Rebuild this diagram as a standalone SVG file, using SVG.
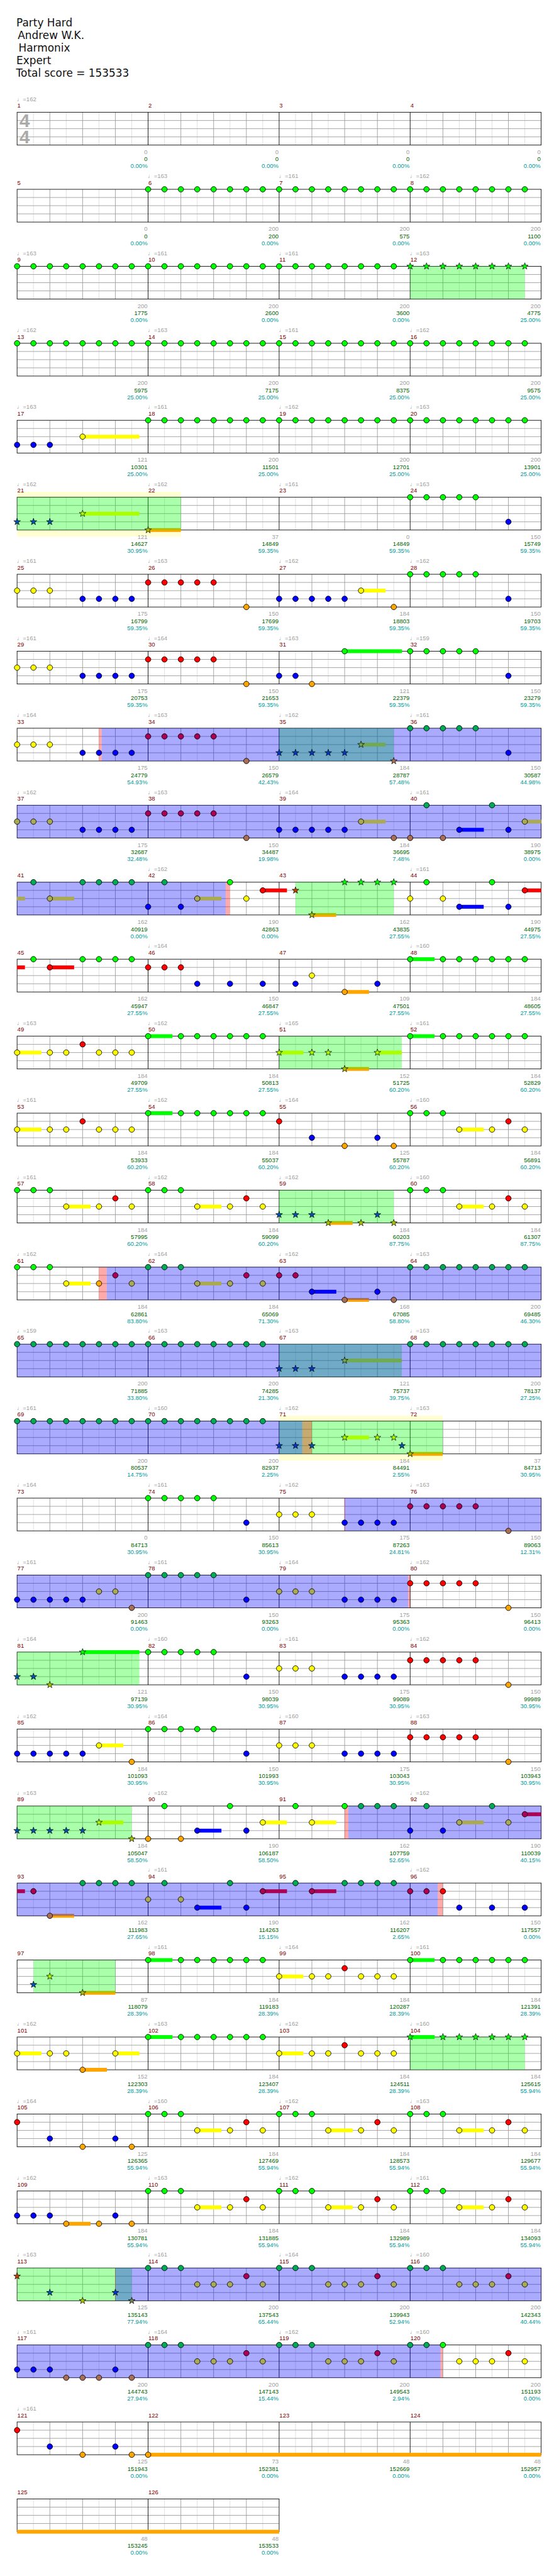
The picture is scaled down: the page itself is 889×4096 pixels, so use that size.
<svg xmlns="http://www.w3.org/2000/svg" xmlns:xlink="http://www.w3.org/1999/xlink" width="889" height="4096" viewBox="0 0 889 4096">
<style>
.t{font-family:"Liberation Sans","DejaVu Sans",sans-serif;font-size:11px}
.mn{fill:#800000}
.tp{fill:#a0a0a0}
.s1,.s2,.s3{text-anchor:end}
.s1{fill:#a0a0a0}.s2{fill:#006400}.s3{fill:#009999}
.ttl{font-family:"DejaVu Sans",sans-serif;font-size:19.5px;fill:#111}
.G{fill:#0f0}.R{fill:#f00}.Y{fill:#ff0}.B{fill:#00f}.O{fill:#ffa500}
.Gb{fill:#00aa55}.Rb{fill:#aa0055}.Yb{fill:#aaaa55}.Ob{fill:#aa6e55}
.Yg{fill:#aaff00}.Bg{fill:#0055aa}.Og{fill:#aac300}.Rg{fill:#c04000}
.Bgb{fill:#0039c6}.Ygb{fill:#71aa55}.Ogb{fill:#718255}.Yp{fill:#ffaa00}
.og{fill:#0f0;fill-opacity:.333}.ob{fill:#00f;fill-opacity:.333}.op{fill:#f00;fill-opacity:.333}
.yb{fill:#ffffd2}
</style>
<defs>
<circle id="c0" r="5" stroke="#000" stroke-width="1"/>
<circle id="c1" cy="15" r="5" stroke="#000" stroke-width="1"/>
<circle id="c2" cy="30" r="5" stroke="#000" stroke-width="1"/>
<circle id="c3" cy="45" r="5" stroke="#000" stroke-width="1"/>
<circle id="c4" cy="60" r="5" stroke="#000" stroke-width="1"/>
<polygon id="s0" points="0,-6.5 1.53,-2.1 6.18,-2.01 2.47,0.8 3.82,5.26 0,2.6 -3.82,5.26 -2.47,0.8 -6.18,-2.01 -1.53,-2.1" stroke="#000" stroke-width="0.8"/>
<use id="s1" href="#s0" y="15"/>
<use id="s2" href="#s0" y="30"/>
<use id="s3" href="#s0" y="45"/>
<use id="s4" href="#s0" y="60"/>
<g id="st">
<rect width="960" height="60" fill="#fff"/>
<path d="M30 0V60M90 0V60M150 0V60M210 0V60M270 0V60M330 0V60M390 0V60M450 0V60M510 0V60M570 0V60M630 0V60M690 0V60M750 0V60M810 0V60M870 0V60M930 0V60" stroke="#dcdcdc" fill="none"/>
<path d="M60 0V60M120 0V60M180 0V60M300 0V60M360 0V60M420 0V60M540 0V60M600 0V60M660 0V60M780 0V60M840 0V60M900 0V60M0 15H960M0 30H960M0 45H960" stroke="#999" fill="none"/>
<path d="M240 0V60M480 0V60M720 0V60" stroke="#000" fill="none"/>
<rect width="960" height="60" fill="none" stroke="#000"/>
</g>
<g id="st2">
<rect width="480" height="60" fill="#fff"/>
<path d="M30 0V60M90 0V60M150 0V60M210 0V60M270 0V60M330 0V60M390 0V60M450 0V60" stroke="#dcdcdc" fill="none"/>
<path d="M60 0V60M120 0V60M180 0V60M300 0V60M360 0V60M420 0V60M0 15H480M0 30H480M0 45H480" stroke="#999" fill="none"/>
<path d="M240 0V60" stroke="#000" fill="none"/>
<rect width="480" height="60" fill="none" stroke="#000"/>
</g>
</defs>
<g transform="scale(0.8682)">
<rect width="1024" height="4717" fill="#fff"/>
<g id="header" class="ttl">
<text x="30" y="48.7">Party Hard</text>
<text x="32.5" y="71.7">Andrew W.K.</text>
<text x="34" y="95">Harmonix</text>
<text x="30" y="117.7">Expert</text>
<text x="29.5" y="140.7">Total score = 153533</text>
</g>

<g id="row1" transform="translate(31.3,205.7)">
<use href="#st"/>
<text x="4.5" y="27.3" font-family="Liberation Sans,sans-serif" font-weight="bold" font-size="34" fill="#aaa">4</text>
<text x="4.5" y="57.3" font-family="Liberation Sans,sans-serif" font-weight="bold" font-size="34" fill="#aaa">4</text>
<g class="t">
<text class="tp" x="-0.5" y="-20.5">♩=162</text>
<text class="mn" x="0.5" y="-8.4">1</text><text class="mn" x="240.5" y="-8.4">2</text><text class="mn" x="480.5" y="-8.4">3</text><text class="mn" x="720.5" y="-8.4">4</text>
<text class="s1" x="239" y="76.3">0</text><text class="s2" x="239" y="89.6">0</text><text class="s3" x="239" y="102.3">0.00%</text>
<text class="s1" x="479" y="76.3">0</text><text class="s2" x="479" y="89.6">0</text><text class="s3" x="479" y="102.3">0.00%</text>
<text class="s1" x="719" y="76.3">0</text><text class="s2" x="719" y="89.6">0</text><text class="s3" x="719" y="102.3">0.00%</text>
<text class="s1" x="959" y="76.3">0</text><text class="s2" x="959" y="89.6">0</text><text class="s3" x="959" y="102.3">0.00%</text>
</g>
</g>

<g id="row2" transform="translate(31.3,346.7)">
<use href="#st"/>
<g class="G"><use href="#c0" x="240"/><use href="#c0" x="270"/><use href="#c0" x="300"/><use href="#c0" x="330"/><use href="#c0" x="360"/><use href="#c0" x="390"/><use href="#c0" x="420"/><use href="#c0" x="450"/><use href="#c0" x="480"/><use href="#c0" x="510"/><use href="#c0" x="540"/><use href="#c0" x="570"/><use href="#c0" x="600"/><use href="#c0" x="630"/><use href="#c0" x="660"/><use href="#c0" x="690"/><use href="#c0" x="720"/><use href="#c0" x="750"/><use href="#c0" x="780"/><use href="#c0" x="810"/><use href="#c0" x="840"/><use href="#c0" x="870"/><use href="#c0" x="900"/><use href="#c0" x="930"/></g>
<g class="t">
<text class="tp" x="239.5" y="-20.5">♩=163</text><text class="tp" x="479.5" y="-20.5">♩=161</text><text class="tp" x="719.5" y="-20.5">♩=162</text>
<text class="mn" x="0.5" y="-8.4">5</text><text class="mn" x="240.5" y="-8.4">6</text><text class="mn" x="480.5" y="-8.4">7</text><text class="mn" x="720.5" y="-8.4">8</text>
<text class="s1" x="239" y="76.3">0</text><text class="s2" x="239" y="89.6">0</text><text class="s3" x="239" y="102.3">0.00%</text>
<text class="s1" x="479" y="76.3">200</text><text class="s2" x="479" y="89.6">200</text><text class="s3" x="479" y="102.3">0.00%</text>
<text class="s1" x="719" y="76.3">200</text><text class="s2" x="719" y="89.6">575</text><text class="s3" x="719" y="102.3">0.00%</text>
<text class="s1" x="959" y="76.3">200</text><text class="s2" x="959" y="89.6">1100</text><text class="s3" x="959" y="102.3">0.00%</text>
</g>
</g>

<g id="row3" transform="translate(31.3,487.7)">
<use href="#st"/>
<rect class="og" x="720" width="210" height="60"/>
<g class="G"><use href="#c0" x="0"/><use href="#c0" x="30"/><use href="#c0" x="60"/><use href="#c0" x="90"/><use href="#c0" x="120"/><use href="#c0" x="150"/><use href="#c0" x="180"/><use href="#c0" x="210"/><use href="#c0" x="240"/><use href="#c0" x="270"/><use href="#c0" x="300"/><use href="#c0" x="330"/><use href="#c0" x="360"/><use href="#c0" x="390"/><use href="#c0" x="420"/><use href="#c0" x="450"/><use href="#c0" x="480"/><use href="#c0" x="510"/><use href="#c0" x="540"/><use href="#c0" x="570"/><use href="#c0" x="600"/><use href="#c0" x="630"/><use href="#c0" x="660"/><use href="#c0" x="690"/>
<use href="#s0" x="720"/><use href="#s0" x="750"/><use href="#s0" x="780"/><use href="#s0" x="810"/><use href="#s0" x="840"/><use href="#s0" x="870"/><use href="#s0" x="900"/><use href="#s0" x="930"/></g>
<g class="t">
<text class="tp" x="-0.5" y="-20.5">♩=163</text><text class="tp" x="239.5" y="-20.5">♩=161</text><text class="tp" x="479.5" y="-20.5">♩=161</text><text class="tp" x="719.5" y="-20.5">♩=163</text>
<text class="mn" x="0.5" y="-8.4">9</text><text class="mn" x="240.5" y="-8.4">10</text><text class="mn" x="480.5" y="-8.4">11</text><text class="mn" x="720.5" y="-8.4">12</text>
<text class="s1" x="239" y="76.3">200</text><text class="s2" x="239" y="89.6">1775</text><text class="s3" x="239" y="102.3">0.00%</text>
<text class="s1" x="479" y="76.3">200</text><text class="s2" x="479" y="89.6">2600</text><text class="s3" x="479" y="102.3">0.00%</text>
<text class="s1" x="719" y="76.3">200</text><text class="s2" x="719" y="89.6">3600</text><text class="s3" x="719" y="102.3">0.00%</text>
<text class="s1" x="959" y="76.3">200</text><text class="s2" x="959" y="89.6">4775</text><text class="s3" x="959" y="102.3">25.00%</text>
</g>
</g>

<g id="row4" transform="translate(31.3,628.7)">
<use href="#st"/>
<g class="G"><use href="#c0" x="0"/><use href="#c0" x="30"/><use href="#c0" x="60"/><use href="#c0" x="90"/><use href="#c0" x="120"/><use href="#c0" x="150"/><use href="#c0" x="180"/><use href="#c0" x="210"/><use href="#c0" x="240"/><use href="#c0" x="270"/><use href="#c0" x="300"/><use href="#c0" x="330"/><use href="#c0" x="360"/><use href="#c0" x="390"/><use href="#c0" x="420"/><use href="#c0" x="450"/><use href="#c0" x="480"/><use href="#c0" x="510"/><use href="#c0" x="540"/><use href="#c0" x="570"/><use href="#c0" x="600"/><use href="#c0" x="630"/><use href="#c0" x="660"/><use href="#c0" x="690"/><use href="#c0" x="720"/><use href="#c0" x="750"/><use href="#c0" x="780"/><use href="#c0" x="810"/><use href="#c0" x="840"/><use href="#c0" x="870"/><use href="#c0" x="900"/><use href="#c0" x="930"/></g>
<g class="t">
<text class="tp" x="-0.5" y="-20.5">♩=162</text><text class="tp" x="239.5" y="-20.5">♩=163</text><text class="tp" x="479.5" y="-20.5">♩=161</text><text class="tp" x="719.5" y="-20.5">♩=162</text>
<text class="mn" x="0.5" y="-8.4">13</text><text class="mn" x="240.5" y="-8.4">14</text><text class="mn" x="480.5" y="-8.4">15</text><text class="mn" x="720.5" y="-8.4">16</text>
<text class="s1" x="239" y="76.3">200</text><text class="s2" x="239" y="89.6">5975</text><text class="s3" x="239" y="102.3">25.00%</text>
<text class="s1" x="479" y="76.3">200</text><text class="s2" x="479" y="89.6">7175</text><text class="s3" x="479" y="102.3">25.00%</text>
<text class="s1" x="719" y="76.3">200</text><text class="s2" x="719" y="89.6">8375</text><text class="s3" x="719" y="102.3">25.00%</text>
<text class="s1" x="959" y="76.3">200</text><text class="s2" x="959" y="89.6">9575</text><text class="s3" x="959" y="102.3">25.00%</text>
</g>
</g>

<g id="row5" transform="translate(31.3,769.7)">
<use href="#st"/>
<rect class="Y" x="120" y="26.5" width="104" height="7"/>
<g class="B"><use href="#c3" x="0"/><use href="#c3" x="30"/><use href="#c3" x="60"/></g>
<use href="#c2" class="Y" x="120"/>
<g class="G"><use href="#c0" x="240"/><use href="#c0" x="270"/><use href="#c0" x="300"/><use href="#c0" x="330"/><use href="#c0" x="360"/><use href="#c0" x="390"/><use href="#c0" x="420"/><use href="#c0" x="450"/><use href="#c0" x="480"/><use href="#c0" x="510"/><use href="#c0" x="540"/><use href="#c0" x="570"/><use href="#c0" x="600"/><use href="#c0" x="630"/><use href="#c0" x="660"/><use href="#c0" x="690"/><use href="#c0" x="720"/><use href="#c0" x="750"/><use href="#c0" x="780"/><use href="#c0" x="810"/><use href="#c0" x="840"/><use href="#c0" x="870"/><use href="#c0" x="900"/><use href="#c0" x="930"/></g>
<g class="t">
<text class="tp" x="-0.5" y="-20.5">♩=163</text><text class="tp" x="239.5" y="-20.5">♩=161</text><text class="tp" x="479.5" y="-20.5">♩=162</text><text class="tp" x="719.5" y="-20.5">♩=163</text>
<text class="mn" x="0.5" y="-8.4">17</text><text class="mn" x="240.5" y="-8.4">18</text><text class="mn" x="480.5" y="-8.4">19</text><text class="mn" x="720.5" y="-8.4">20</text>
<text class="s1" x="239" y="76.3">121</text><text class="s2" x="239" y="89.6">10301</text><text class="s3" x="239" y="102.3">25.00%</text>
<text class="s1" x="479" y="76.3">200</text><text class="s2" x="479" y="89.6">11501</text><text class="s3" x="479" y="102.3">25.00%</text>
<text class="s1" x="719" y="76.3">200</text><text class="s2" x="719" y="89.6">12701</text><text class="s3" x="719" y="102.3">25.00%</text>
<text class="s1" x="959" y="76.3">200</text><text class="s2" x="959" y="89.6">13901</text><text class="s3" x="959" y="102.3">25.00%</text>
</g>
</g>

<g id="row6" transform="translate(31.3,910.7)">
<rect class="yb" x="0" y="-10" width="300" height="82"/>
<use href="#st"/>
<rect class="Y" x="120" y="26.5" width="104" height="7"/>
<rect class="O" x="240" y="56.5" width="60" height="7"/>
<rect class="og" x="0" width="300" height="60"/>
<g class="Bg"><use href="#s3" x="0"/><use href="#s3" x="30"/><use href="#s3" x="60"/></g>
<use href="#s2" class="Yg" x="120"/>
<use href="#s4" class="Og" x="240"/>
<g class="G"><use href="#c0" x="720"/><use href="#c0" x="750"/><use href="#c0" x="780"/><use href="#c0" x="810"/><use href="#c0" x="840"/></g>
<use href="#c3" class="B" x="900"/>
<g class="t">
<text class="tp" x="-0.5" y="-20.5">♩=162</text><text class="tp" x="239.5" y="-20.5">♩=162</text><text class="tp" x="479.5" y="-20.5">♩=161</text><text class="tp" x="719.5" y="-20.5">♩=163</text>
<text class="mn" x="0.5" y="-8.4">21</text><text class="mn" x="240.5" y="-8.4">22</text><text class="mn" x="480.5" y="-8.4">23</text><text class="mn" x="720.5" y="-8.4">24</text>
<text class="s1" x="239" y="76.3">121</text><text class="s2" x="239" y="89.6">14627</text><text class="s3" x="239" y="102.3">30.95%</text>
<text class="s1" x="479" y="76.3">37</text><text class="s2" x="479" y="89.6">14849</text><text class="s3" x="479" y="102.3">59.35%</text>
<text class="s1" x="719" y="76.3">0</text><text class="s2" x="719" y="89.6">14849</text><text class="s3" x="719" y="102.3">59.35%</text>
<text class="s1" x="959" y="76.3">150</text><text class="s2" x="959" y="89.6">15749</text><text class="s3" x="959" y="102.3">59.35%</text>
</g>
</g>

<g id="row7" transform="translate(31.3,1051.7)">
<use href="#st"/>
<rect class="Y" x="630" y="26.5" width="45" height="7"/>
<g class="Y"><use href="#c2" x="0"/><use href="#c2" x="30"/><use href="#c2" x="60"/><use href="#c2" x="630"/></g>
<g class="B"><use href="#c3" x="120"/><use href="#c3" x="150"/><use href="#c3" x="180"/><use href="#c3" x="210"/><use href="#c3" x="480"/><use href="#c3" x="510"/><use href="#c3" x="540"/><use href="#c3" x="570"/><use href="#c3" x="600"/><use href="#c3" x="900"/></g>
<g class="R"><use href="#c1" x="240"/><use href="#c1" x="270"/><use href="#c1" x="300"/><use href="#c1" x="330"/><use href="#c1" x="360"/></g>
<g class="O"><use href="#c4" x="420"/><use href="#c4" x="690"/></g>
<g class="G"><use href="#c0" x="720"/><use href="#c0" x="750"/><use href="#c0" x="780"/><use href="#c0" x="810"/><use href="#c0" x="840"/></g>
<g class="t">
<text class="tp" x="-0.5" y="-20.5">♩=161</text><text class="tp" x="239.5" y="-20.5">♩=163</text><text class="tp" x="479.5" y="-20.5">♩=162</text><text class="tp" x="719.5" y="-20.5">♩=162</text>
<text class="mn" x="0.5" y="-8.4">25</text><text class="mn" x="240.5" y="-8.4">26</text><text class="mn" x="480.5" y="-8.4">27</text><text class="mn" x="720.5" y="-8.4">28</text>
<text class="s1" x="239" y="76.3">175</text><text class="s2" x="239" y="89.6">16799</text><text class="s3" x="239" y="102.3">59.35%</text>
<text class="s1" x="479" y="76.3">150</text><text class="s2" x="479" y="89.6">17699</text><text class="s3" x="479" y="102.3">59.35%</text>
<text class="s1" x="719" y="76.3">184</text><text class="s2" x="719" y="89.6">18803</text><text class="s3" x="719" y="102.3">59.35%</text>
<text class="s1" x="959" y="76.3">150</text><text class="s2" x="959" y="89.6">19703</text><text class="s3" x="959" y="102.3">59.35%</text>
</g>
</g>

<g id="row8" transform="translate(31.3,1192.7)">
<use href="#st"/>
<rect class="G" x="600" y="-3.5" width="105" height="7"/>
<g class="Y"><use href="#c2" x="0"/><use href="#c2" x="30"/><use href="#c2" x="60"/></g>
<g class="B"><use href="#c3" x="120"/><use href="#c3" x="150"/><use href="#c3" x="180"/><use href="#c3" x="210"/><use href="#c3" x="480"/><use href="#c3" x="510"/><use href="#c3" x="900"/></g>
<g class="R"><use href="#c1" x="240"/><use href="#c1" x="270"/><use href="#c1" x="300"/><use href="#c1" x="330"/><use href="#c1" x="360"/></g>
<g class="O"><use href="#c4" x="420"/><use href="#c4" x="540"/></g>
<g class="G"><use href="#c0" x="600"/><use href="#c0" x="720"/><use href="#c0" x="750"/><use href="#c0" x="780"/><use href="#c0" x="810"/><use href="#c0" x="840"/></g>
<g class="t">
<text class="tp" x="-0.5" y="-20.5">♩=161</text><text class="tp" x="239.5" y="-20.5">♩=164</text><text class="tp" x="479.5" y="-20.5">♩=163</text><text class="tp" x="719.5" y="-20.5">♩=159</text>
<text class="mn" x="0.5" y="-8.4">29</text><text class="mn" x="240.5" y="-8.4">30</text><text class="mn" x="480.5" y="-8.4">31</text><text class="mn" x="720.5" y="-8.4">32</text>
<text class="s1" x="239" y="76.3">175</text><text class="s2" x="239" y="89.6">20753</text><text class="s3" x="239" y="102.3">59.35%</text>
<text class="s1" x="479" y="76.3">150</text><text class="s2" x="479" y="89.6">21653</text><text class="s3" x="479" y="102.3">59.35%</text>
<text class="s1" x="719" y="76.3">121</text><text class="s2" x="719" y="89.6">22379</text><text class="s3" x="719" y="102.3">59.35%</text>
<text class="s1" x="959" y="76.3">150</text><text class="s2" x="959" y="89.6">23279</text><text class="s3" x="959" y="102.3">59.35%</text>
</g>
</g>

<g id="row9" transform="translate(31.3,1333.7)">
<use href="#st"/>
<rect class="Y" x="630" y="26.5" width="45" height="7"/>
<rect class="og" x="480" width="210" height="60"/>
<rect class="ob" x="154.8" width="805.2" height="60"/>
<rect class="op" x="149.6" width="5.2" height="60"/>
<g class="Y"><use href="#c2" x="0"/><use href="#c2" x="30"/><use href="#c2" x="60"/></g>
<g class="B"><use href="#c3" x="120"/><use href="#c3" x="150"/><use href="#c3" x="180"/><use href="#c3" x="210"/><use href="#c3" x="900"/></g>
<g class="Rb"><use href="#c1" x="240"/><use href="#c1" x="270"/><use href="#c1" x="300"/><use href="#c1" x="330"/><use href="#c1" x="360"/></g>
<use href="#c4" class="Ob" x="420"/>
<g class="Bgb"><use href="#s3" x="480"/><use href="#s3" x="510"/><use href="#s3" x="540"/><use href="#s3" x="570"/><use href="#s3" x="600"/></g>
<use href="#s2" class="Ygb" x="630"/>
<use href="#s4" class="Ob" x="690"/>
<g class="Gb"><use href="#c0" x="720"/><use href="#c0" x="750"/><use href="#c0" x="780"/><use href="#c0" x="810"/><use href="#c0" x="840"/></g>
<g class="t">
<text class="tp" x="-0.5" y="-20.5">♩=164</text><text class="tp" x="239.5" y="-20.5">♩=163</text><text class="tp" x="479.5" y="-20.5">♩=162</text><text class="tp" x="719.5" y="-20.5">♩=161</text>
<text class="mn" x="0.5" y="-8.4">33</text><text class="mn" x="240.5" y="-8.4">34</text><text class="mn" x="480.5" y="-8.4">35</text><text class="mn" x="720.5" y="-8.4">36</text>
<text class="s1" x="239" y="76.3">175</text><text class="s2" x="239" y="89.6">24779</text><text class="s3" x="239" y="102.3">54.93%</text>
<text class="s1" x="479" y="76.3">150</text><text class="s2" x="479" y="89.6">26579</text><text class="s3" x="479" y="102.3">42.43%</text>
<text class="s1" x="719" y="76.3">184</text><text class="s2" x="719" y="89.6">28787</text><text class="s3" x="719" y="102.3">57.48%</text>
<text class="s1" x="959" y="76.3">150</text><text class="s2" x="959" y="89.6">30587</text><text class="s3" x="959" y="102.3">44.98%</text>
</g>
</g>

<g id="row10" transform="translate(31.3,1474.7)">
<use href="#st"/>
<rect class="Y" x="630" y="26.5" width="45" height="7"/>
<rect class="B" x="810" y="41.5" width="45" height="7"/>
<rect class="Y" x="930" y="26.5" width="30" height="7"/>
<rect class="ob" x="0" width="960" height="60"/>
<g class="Yb"><use href="#c2" x="0"/><use href="#c2" x="30"/><use href="#c2" x="60"/><use href="#c2" x="630"/><use href="#c2" x="930"/></g>
<g class="B"><use href="#c3" x="120"/><use href="#c3" x="150"/><use href="#c3" x="180"/><use href="#c3" x="210"/><use href="#c3" x="480"/><use href="#c3" x="510"/><use href="#c3" x="540"/><use href="#c3" x="570"/><use href="#c3" x="600"/><use href="#c3" x="810"/><use href="#c3" x="900"/></g>
<g class="Rb"><use href="#c1" x="240"/><use href="#c1" x="270"/><use href="#c1" x="300"/><use href="#c1" x="330"/><use href="#c1" x="360"/></g>
<g class="Ob"><use href="#c4" x="420"/><use href="#c4" x="690"/><use href="#c4" x="720"/><use href="#c4" x="780"/></g>
<g class="Gb"><use href="#c0" x="750"/><use href="#c0" x="870"/></g>
<g class="t">
<text class="tp" x="-0.5" y="-20.5">♩=162</text><text class="tp" x="239.5" y="-20.5">♩=163</text><text class="tp" x="479.5" y="-20.5">♩=164</text><text class="tp" x="719.5" y="-20.5">♩=161</text>
<text class="mn" x="0.5" y="-8.4">37</text><text class="mn" x="240.5" y="-8.4">38</text><text class="mn" x="480.5" y="-8.4">39</text><text class="mn" x="720.5" y="-8.4">40</text>
<text class="s1" x="239" y="76.3">175</text><text class="s2" x="239" y="89.6">32687</text><text class="s3" x="239" y="102.3">32.48%</text>
<text class="s1" x="479" y="76.3">150</text><text class="s2" x="479" y="89.6">34487</text><text class="s3" x="479" y="102.3">19.98%</text>
<text class="s1" x="719" y="76.3">184</text><text class="s2" x="719" y="89.6">36695</text><text class="s3" x="719" y="102.3">7.48%</text>
<text class="s1" x="959" y="76.3">190</text><text class="s2" x="959" y="89.6">38975</text><text class="s3" x="959" y="102.3">0.00%</text>
</g>
</g>

<g id="row11" transform="translate(31.3,1615.7)">
<use href="#st"/>
<rect class="Y" x="0" y="26.5" width="14.4" height="7"/>
<rect class="Y" x="60" y="26.5" width="44.5" height="7"/>
<rect class="Y" x="330" y="26.5" width="44.3" height="7"/>
<rect class="R" x="450" y="11.5" width="44.4" height="7"/>
<rect class="O" x="540" y="56.5" width="44.5" height="7"/>
<rect class="B" x="810" y="41.5" width="44.7" height="7"/>
<rect class="R" x="930" y="11.5" width="30" height="7"/>
<rect class="ob" x="0" width="382.1" height="60"/>
<rect class="op" x="382.1" width="7.8" height="60"/>
<rect class="og" x="510" width="180" height="60"/>
<g class="Gb"><use href="#c0" x="30"/><use href="#c0" x="120"/><use href="#c0" x="150"/><use href="#c0" x="180"/><use href="#c0" x="210"/><use href="#c0" x="270"/></g>
<g class="Yb"><use href="#c2" x="60"/><use href="#c2" x="330"/></g>
<g class="B"><use href="#c3" x="240"/><use href="#c3" x="300"/><use href="#c3" x="810"/><use href="#c3" x="900"/></g>
<g class="G"><use href="#c0" x="390"/><use href="#c0" x="750"/><use href="#c0" x="870"/><use href="#s0" x="600"/><use href="#s0" x="630"/><use href="#s0" x="660"/><use href="#s0" x="690"/></g>
<g class="Y"><use href="#c2" x="420"/><use href="#c2" x="720"/><use href="#c2" x="780"/></g>
<g class="R"><use href="#c1" x="450"/><use href="#c1" x="930"/></g>
<use href="#s1" class="Rg" x="510"/>
<use href="#s4" class="Og" x="540"/>
<g class="t">
<text class="tp" x="239.5" y="-20.5">♩=162</text><text class="tp" x="719.5" y="-20.5">♩=161</text>
<text class="mn" x="0.5" y="-8.4">41</text><text class="mn" x="240.5" y="-8.4">42</text><text class="mn" x="480.5" y="-8.4">43</text><text class="mn" x="720.5" y="-8.4">44</text>
<text class="s1" x="239" y="76.3">162</text><text class="s2" x="239" y="89.6">40919</text><text class="s3" x="239" y="102.3">0.00%</text>
<text class="s1" x="479" y="76.3">190</text><text class="s2" x="479" y="89.6">42863</text><text class="s3" x="479" y="102.3">0.00%</text>
<text class="s1" x="719" y="76.3">162</text><text class="s2" x="719" y="89.6">43835</text><text class="s3" x="719" y="102.3">27.55%</text>
<text class="s1" x="959" y="76.3">190</text><text class="s2" x="959" y="89.6">44975</text><text class="s3" x="959" y="102.3">27.55%</text>
</g>
</g>

<g id="row12" transform="translate(31.3,1756.7)">
<use href="#st"/>
<rect class="R" x="0" y="11.5" width="14.4" height="7"/>
<rect class="R" x="60" y="11.5" width="44.5" height="7"/>
<rect class="O" x="600" y="56.5" width="44.7" height="7"/>
<rect class="G" x="720" y="-3.5" width="44.7" height="7"/>
<g class="G"><use href="#c0" x="30"/><use href="#c0" x="120"/><use href="#c0" x="150"/><use href="#c0" x="180"/><use href="#c0" x="210"/><use href="#c0" x="720"/><use href="#c0" x="780"/><use href="#c0" x="810"/><use href="#c0" x="840"/><use href="#c0" x="870"/><use href="#c0" x="900"/><use href="#c0" x="930"/></g>
<g class="R"><use href="#c1" x="60"/><use href="#c1" x="240"/><use href="#c1" x="270"/><use href="#c1" x="300"/></g>
<g class="B"><use href="#c3" x="330"/><use href="#c3" x="390"/><use href="#c3" x="450"/><use href="#c3" x="510"/><use href="#c3" x="660"/></g>
<use href="#c2" class="Y" x="540"/>
<use href="#c4" class="O" x="600"/>
<g class="t">
<text class="tp" x="239.5" y="-20.5">♩=164</text><text class="tp" x="719.5" y="-20.5">♩=160</text>
<text class="mn" x="0.5" y="-8.4">45</text><text class="mn" x="240.5" y="-8.4">46</text><text class="mn" x="480.5" y="-8.4">47</text><text class="mn" x="720.5" y="-8.4">48</text>
<text class="s1" x="239" y="76.3">162</text><text class="s2" x="239" y="89.6">45947</text><text class="s3" x="239" y="102.3">27.55%</text>
<text class="s1" x="479" y="76.3">150</text><text class="s2" x="479" y="89.6">46847</text><text class="s3" x="479" y="102.3">27.55%</text>
<text class="s1" x="719" y="76.3">109</text><text class="s2" x="719" y="89.6">47501</text><text class="s3" x="719" y="102.3">27.55%</text>
<text class="s1" x="959" y="76.3">184</text><text class="s2" x="959" y="89.6">48605</text><text class="s3" x="959" y="102.3">27.55%</text>
</g>
</g>

<g id="row13" transform="translate(31.3,1897.7)">
<use href="#st"/>
<rect class="Y" x="0" y="26.5" width="44.5" height="7"/>
<rect class="G" x="240" y="-3.5" width="44.7" height="7"/>
<rect class="Y" x="480" y="26.5" width="44.5" height="7"/>
<rect class="O" x="600" y="56.5" width="44.7" height="7"/>
<rect class="Y" x="660" y="26.5" width="44.7" height="7"/>
<rect class="G" x="720" y="-3.5" width="44.7" height="7"/>
<rect class="og" x="480" width="224.7" height="60"/>
<g class="Y"><use href="#c2" x="0"/><use href="#c2" x="60"/><use href="#c2" x="90"/><use href="#c2" x="150"/><use href="#c2" x="180"/><use href="#c2" x="210"/></g>
<use href="#c1" class="R" x="120"/>
<g class="G"><use href="#c0" x="240"/><use href="#c0" x="300"/><use href="#c0" x="330"/><use href="#c0" x="360"/><use href="#c0" x="390"/><use href="#c0" x="420"/><use href="#c0" x="450"/><use href="#c0" x="720"/><use href="#c0" x="780"/><use href="#c0" x="810"/><use href="#c0" x="840"/><use href="#c0" x="870"/><use href="#c0" x="900"/><use href="#c0" x="930"/></g>
<g class="Yg"><use href="#s2" x="480"/><use href="#s2" x="540"/><use href="#s2" x="570"/><use href="#s2" x="660"/></g>
<use href="#s4" class="Og" x="600"/>
<g class="t">
<text class="tp" x="-0.5" y="-20.5">♩=163</text><text class="tp" x="239.5" y="-20.5">♩=162</text><text class="tp" x="479.5" y="-20.5">♩=165</text><text class="tp" x="719.5" y="-20.5">♩=161</text>
<text class="mn" x="0.5" y="-8.4">49</text><text class="mn" x="240.5" y="-8.4">50</text><text class="mn" x="480.5" y="-8.4">51</text><text class="mn" x="720.5" y="-8.4">52</text>
<text class="s1" x="239" y="76.3">184</text><text class="s2" x="239" y="89.6">49709</text><text class="s3" x="239" y="102.3">27.55%</text>
<text class="s1" x="479" y="76.3">184</text><text class="s2" x="479" y="89.6">50813</text><text class="s3" x="479" y="102.3">27.55%</text>
<text class="s1" x="719" y="76.3">152</text><text class="s2" x="719" y="89.6">51725</text><text class="s3" x="719" y="102.3">60.20%</text>
<text class="s1" x="959" y="76.3">184</text><text class="s2" x="959" y="89.6">52829</text><text class="s3" x="959" y="102.3">60.20%</text>
</g>
</g>

<g id="row14" transform="translate(31.3,2038.7)">
<use href="#st"/>
<rect class="Y" x="0" y="26.5" width="44.5" height="7"/>
<rect class="G" x="240" y="-3.5" width="44.7" height="7"/>
<rect class="Y" x="810" y="26.5" width="44.7" height="7"/>
<g class="Y"><use href="#c2" x="0"/><use href="#c2" x="60"/><use href="#c2" x="90"/><use href="#c2" x="150"/><use href="#c2" x="180"/><use href="#c2" x="210"/><use href="#c2" x="810"/><use href="#c2" x="870"/><use href="#c2" x="930"/></g>
<g class="R"><use href="#c1" x="120"/><use href="#c1" x="480"/><use href="#c1" x="900"/></g>
<g class="G"><use href="#c0" x="240"/><use href="#c0" x="300"/><use href="#c0" x="330"/><use href="#c0" x="360"/><use href="#c0" x="390"/><use href="#c0" x="420"/><use href="#c0" x="450"/><use href="#c0" x="720"/><use href="#c0" x="750"/><use href="#c0" x="780"/></g>
<g class="B"><use href="#c3" x="540"/><use href="#c3" x="660"/></g>
<g class="O"><use href="#c4" x="600"/><use href="#c4" x="690"/></g>
<g class="t">
<text class="tp" x="-0.5" y="-20.5">♩=161</text><text class="tp" x="239.5" y="-20.5">♩=162</text><text class="tp" x="479.5" y="-20.5">♩=164</text><text class="tp" x="719.5" y="-20.5">♩=160</text>
<text class="mn" x="0.5" y="-8.4">53</text><text class="mn" x="240.5" y="-8.4">54</text><text class="mn" x="480.5" y="-8.4">55</text><text class="mn" x="720.5" y="-8.4">56</text>
<text class="s1" x="239" y="76.3">184</text><text class="s2" x="239" y="89.6">53933</text><text class="s3" x="239" y="102.3">60.20%</text>
<text class="s1" x="479" y="76.3">184</text><text class="s2" x="479" y="89.6">55037</text><text class="s3" x="479" y="102.3">60.20%</text>
<text class="s1" x="719" y="76.3">125</text><text class="s2" x="719" y="89.6">55787</text><text class="s3" x="719" y="102.3">60.20%</text>
<text class="s1" x="959" y="76.3">184</text><text class="s2" x="959" y="89.6">56891</text><text class="s3" x="959" y="102.3">60.20%</text>
</g>
</g>

<g id="row15" transform="translate(31.3,2179.7)">
<use href="#st"/>
<rect class="Y" x="90" y="26.5" width="44.6" height="7"/>
<rect class="Y" x="330" y="26.5" width="44.3" height="7"/>
<rect class="O" x="570" y="56.5" width="44.7" height="7"/>
<rect class="Y" x="810" y="26.5" width="44.7" height="7"/>
<rect class="og" x="480" width="210" height="60"/>
<g class="G"><use href="#c0" x="0"/><use href="#c0" x="30"/><use href="#c0" x="60"/><use href="#c0" x="240"/><use href="#c0" x="270"/><use href="#c0" x="300"/><use href="#c0" x="720"/><use href="#c0" x="750"/><use href="#c0" x="780"/></g>
<g class="Y"><use href="#c2" x="90"/><use href="#c2" x="150"/><use href="#c2" x="210"/><use href="#c2" x="330"/><use href="#c2" x="390"/><use href="#c2" x="450"/><use href="#c2" x="810"/><use href="#c2" x="870"/><use href="#c2" x="930"/></g>
<g class="R"><use href="#c1" x="180"/><use href="#c1" x="420"/><use href="#c1" x="900"/></g>
<g class="Bg"><use href="#s3" x="480"/><use href="#s3" x="510"/><use href="#s3" x="540"/><use href="#s3" x="660"/></g>
<g class="Og"><use href="#s4" x="570"/><use href="#s4" x="630"/><use href="#s4" x="690"/></g>
<g class="t">
<text class="tp" x="-0.5" y="-20.5">♩=161</text><text class="tp" x="239.5" y="-20.5">♩=162</text><text class="tp" x="479.5" y="-20.5">♩=162</text><text class="tp" x="719.5" y="-20.5">♩=160</text>
<text class="mn" x="0.5" y="-8.4">57</text><text class="mn" x="240.5" y="-8.4">58</text><text class="mn" x="480.5" y="-8.4">59</text><text class="mn" x="720.5" y="-8.4">60</text>
<text class="s1" x="239" y="76.3">184</text><text class="s2" x="239" y="89.6">57995</text><text class="s3" x="239" y="102.3">60.20%</text>
<text class="s1" x="479" y="76.3">184</text><text class="s2" x="479" y="89.6">59099</text><text class="s3" x="479" y="102.3">60.20%</text>
<text class="s1" x="719" y="76.3">184</text><text class="s2" x="719" y="89.6">60203</text><text class="s3" x="719" y="102.3">87.75%</text>
<text class="s1" x="959" y="76.3">184</text><text class="s2" x="959" y="89.6">61307</text><text class="s3" x="959" y="102.3">87.75%</text>
</g>
</g>

<g id="row16" transform="translate(31.3,2320.7)">
<use href="#st"/>
<rect class="Y" x="90" y="26.5" width="44.6" height="7"/>
<rect class="Y" x="330" y="26.5" width="44.3" height="7"/>
<rect class="B" x="540" y="41.5" width="44.7" height="7"/>
<rect class="O" x="600" y="56.5" width="44.7" height="7"/>
<rect class="ob" x="164" width="796" height="60"/>
<rect class="op" x="149.6" width="14.4" height="60"/>
<g class="G"><use href="#c0" x="0"/><use href="#c0" x="30"/><use href="#c0" x="60"/></g>
<use href="#c2" class="Y" x="90"/>
<use href="#c2" class="Yp" x="150"/>
<g class="Rb"><use href="#c1" x="180"/><use href="#c1" x="420"/><use href="#c1" x="480"/><use href="#c1" x="510"/></g>
<g class="Yb"><use href="#c2" x="210"/><use href="#c2" x="330"/><use href="#c2" x="390"/><use href="#c2" x="450"/></g>
<g class="Gb"><use href="#c0" x="240"/><use href="#c0" x="270"/><use href="#c0" x="300"/><use href="#c0" x="720"/><use href="#c0" x="750"/><use href="#c0" x="780"/><use href="#c0" x="810"/><use href="#c0" x="840"/><use href="#c0" x="870"/><use href="#c0" x="900"/><use href="#c0" x="930"/></g>
<g class="B"><use href="#c3" x="540"/><use href="#c3" x="660"/></g>
<g class="Ob"><use href="#c4" x="600"/><use href="#c4" x="690"/></g>
<g class="t">
<text class="tp" x="-0.5" y="-20.5">♩=162</text><text class="tp" x="239.5" y="-20.5">♩=164</text><text class="tp" x="479.5" y="-20.5">♩=162</text><text class="tp" x="719.5" y="-20.5">♩=163</text>
<text class="mn" x="0.5" y="-8.4">61</text><text class="mn" x="240.5" y="-8.4">62</text><text class="mn" x="480.5" y="-8.4">63</text><text class="mn" x="720.5" y="-8.4">64</text>
<text class="s1" x="239" y="76.3">184</text><text class="s2" x="239" y="89.6">62861</text><text class="s3" x="239" y="102.3">83.80%</text>
<text class="s1" x="479" y="76.3">184</text><text class="s2" x="479" y="89.6">65069</text><text class="s3" x="479" y="102.3">71.30%</text>
<text class="s1" x="719" y="76.3">168</text><text class="s2" x="719" y="89.6">67085</text><text class="s3" x="719" y="102.3">58.80%</text>
<text class="s1" x="959" y="76.3">200</text><text class="s2" x="959" y="89.6">69485</text><text class="s3" x="959" y="102.3">46.30%</text>
</g>
</g>

<g id="row17" transform="translate(31.3,2461.7)">
<use href="#st"/>
<rect class="Y" x="600" y="26.5" width="104.7" height="7"/>
<rect class="og" x="480" width="224.7" height="60"/>
<rect class="ob" x="0" width="960" height="60"/>
<g class="Gb"><use href="#c0" x="0"/><use href="#c0" x="30"/><use href="#c0" x="60"/><use href="#c0" x="90"/><use href="#c0" x="120"/><use href="#c0" x="150"/><use href="#c0" x="180"/><use href="#c0" x="210"/><use href="#c0" x="240"/><use href="#c0" x="270"/><use href="#c0" x="300"/><use href="#c0" x="330"/><use href="#c0" x="360"/><use href="#c0" x="390"/><use href="#c0" x="420"/><use href="#c0" x="450"/><use href="#c0" x="720"/><use href="#c0" x="750"/><use href="#c0" x="780"/><use href="#c0" x="810"/><use href="#c0" x="840"/><use href="#c0" x="870"/><use href="#c0" x="900"/><use href="#c0" x="930"/></g>
<g class="Bgb"><use href="#s3" x="480"/><use href="#s3" x="510"/><use href="#s3" x="540"/></g>
<use href="#s2" class="Ygb" x="600"/>
<g class="t">
<text class="tp" x="-0.5" y="-20.5">♩=159</text><text class="tp" x="239.5" y="-20.5">♩=163</text><text class="tp" x="479.5" y="-20.5">♩=163</text><text class="tp" x="719.5" y="-20.5">♩=163</text>
<text class="mn" x="0.5" y="-8.4">65</text><text class="mn" x="240.5" y="-8.4">66</text><text class="mn" x="480.5" y="-8.4">67</text><text class="mn" x="720.5" y="-8.4">68</text>
<text class="s1" x="239" y="76.3">200</text><text class="s2" x="239" y="89.6">71885</text><text class="s3" x="239" y="102.3">33.80%</text>
<text class="s1" x="479" y="76.3">200</text><text class="s2" x="479" y="89.6">74285</text><text class="s3" x="479" y="102.3">21.30%</text>
<text class="s1" x="719" y="76.3">121</text><text class="s2" x="719" y="89.6">75737</text><text class="s3" x="719" y="102.3">39.75%</text>
<text class="s1" x="959" y="76.3">200</text><text class="s2" x="959" y="89.6">78137</text><text class="s3" x="959" y="102.3">27.25%</text>
</g>
</g>

<g id="row18" transform="translate(31.3,2602.7)">
<rect class="yb" x="480" y="-10" width="299.7" height="82"/>
<use href="#st"/>
<rect class="Y" x="600" y="26.5" width="44.7" height="7"/>
<rect class="O" x="720" y="56.5" width="59.7" height="7"/>
<rect class="og" x="480" width="299.7" height="60"/>
<rect class="ob" x="0" width="522.5" height="60"/>
<rect class="op" x="522.5" width="17.5" height="60"/>
<g class="Gb"><use href="#c0" x="0"/><use href="#c0" x="30"/><use href="#c0" x="60"/><use href="#c0" x="90"/><use href="#c0" x="120"/><use href="#c0" x="150"/><use href="#c0" x="180"/><use href="#c0" x="210"/><use href="#c0" x="240"/><use href="#c0" x="270"/><use href="#c0" x="300"/><use href="#c0" x="330"/><use href="#c0" x="360"/><use href="#c0" x="390"/><use href="#c0" x="420"/><use href="#c0" x="450"/></g>
<g class="Bgb"><use href="#s3" x="480"/><use href="#s3" x="510"/></g>
<g class="Bg"><use href="#s3" x="540"/><use href="#s3" x="705"/></g>
<g class="Yg"><use href="#s2" x="600"/><use href="#s2" x="660"/><use href="#s2" x="690"/></g>
<use href="#s4" class="Og" x="720"/>
<g class="t">
<text class="tp" x="-0.5" y="-20.5">♩=161</text><text class="tp" x="239.5" y="-20.5">♩=160</text><text class="tp" x="479.5" y="-20.5">♩=162</text><text class="tp" x="719.5" y="-20.5">♩=163</text>
<text class="mn" x="0.5" y="-8.4">69</text><text class="mn" x="240.5" y="-8.4">70</text><text class="mn" x="480.5" y="-8.4">71</text><text class="mn" x="720.5" y="-8.4">72</text>
<text class="s1" x="239" y="76.3">200</text><text class="s2" x="239" y="89.6">80537</text><text class="s3" x="239" y="102.3">14.75%</text>
<text class="s1" x="479" y="76.3">200</text><text class="s2" x="479" y="89.6">82937</text><text class="s3" x="479" y="102.3">2.25%</text>
<text class="s1" x="719" y="76.3">184</text><text class="s2" x="719" y="89.6">84491</text><text class="s3" x="719" y="102.3">2.55%</text>
<text class="s1" x="959" y="76.3">37</text><text class="s2" x="959" y="89.6">84713</text><text class="s3" x="959" y="102.3">30.95%</text>
</g>
</g>

<g id="row19" transform="translate(31.3,2743.7)">
<use href="#st"/>
<rect class="ob" x="600" width="360" height="60"/>
<rect class="op" x="599.3" width="1.4" height="60"/>
<g class="G"><use href="#c0" x="240"/><use href="#c0" x="270"/><use href="#c0" x="300"/><use href="#c0" x="330"/><use href="#c0" x="360"/></g>
<g class="B"><use href="#c3" x="420"/><use href="#c3" x="600"/><use href="#c3" x="630"/><use href="#c3" x="660"/><use href="#c3" x="690"/></g>
<g class="Y"><use href="#c2" x="480"/><use href="#c2" x="510"/><use href="#c2" x="540"/></g>
<g class="Rb"><use href="#c1" x="720"/><use href="#c1" x="750"/><use href="#c1" x="780"/><use href="#c1" x="810"/><use href="#c1" x="840"/></g>
<use href="#c4" class="Ob" x="900"/>
<g class="t">
<text class="tp" x="-0.5" y="-20.5">♩=164</text><text class="tp" x="239.5" y="-20.5">♩=161</text><text class="tp" x="479.5" y="-20.5">♩=162</text><text class="tp" x="719.5" y="-20.5">♩=163</text>
<text class="mn" x="0.5" y="-8.4">73</text><text class="mn" x="240.5" y="-8.4">74</text><text class="mn" x="480.5" y="-8.4">75</text><text class="mn" x="720.5" y="-8.4">76</text>
<text class="s1" x="239" y="76.3">0</text><text class="s2" x="239" y="89.6">84713</text><text class="s3" x="239" y="102.3">30.95%</text>
<text class="s1" x="479" y="76.3">150</text><text class="s2" x="479" y="89.6">85613</text><text class="s3" x="479" y="102.3">30.95%</text>
<text class="s1" x="719" y="76.3">175</text><text class="s2" x="719" y="89.6">87263</text><text class="s3" x="719" y="102.3">24.81%</text>
<text class="s1" x="959" y="76.3">150</text><text class="s2" x="959" y="89.6">89063</text><text class="s3" x="959" y="102.3">12.31%</text>
</g>
</g>

<g id="row20" transform="translate(31.3,2884.7)">
<use href="#st"/>
<rect class="ob" x="0" width="716.4" height="60"/>
<rect class="op" x="716.4" width="3.6" height="60"/>
<g class="B"><use href="#c3" x="0"/><use href="#c3" x="30"/><use href="#c3" x="60"/><use href="#c3" x="90"/><use href="#c3" x="120"/><use href="#c3" x="420"/><use href="#c3" x="600"/><use href="#c3" x="630"/><use href="#c3" x="660"/><use href="#c3" x="690"/></g>
<g class="Yb"><use href="#c2" x="150"/><use href="#c2" x="180"/><use href="#c2" x="480"/><use href="#c2" x="510"/><use href="#c2" x="540"/></g>
<use href="#c4" class="Ob" x="210"/>
<g class="Gb"><use href="#c0" x="240"/><use href="#c0" x="270"/><use href="#c0" x="300"/><use href="#c0" x="330"/><use href="#c0" x="360"/></g>
<g class="R"><use href="#c1" x="720"/><use href="#c1" x="750"/><use href="#c1" x="780"/><use href="#c1" x="810"/><use href="#c1" x="840"/></g>
<use href="#c4" class="O" x="900"/>
<g class="t">
<text class="tp" x="-0.5" y="-20.5">♩=161</text><text class="tp" x="239.5" y="-20.5">♩=161</text><text class="tp" x="479.5" y="-20.5">♩=164</text><text class="tp" x="719.5" y="-20.5">♩=162</text>
<text class="mn" x="0.5" y="-8.4">77</text><text class="mn" x="240.5" y="-8.4">78</text><text class="mn" x="480.5" y="-8.4">79</text><text class="mn" x="720.5" y="-8.4">80</text>
<text class="s1" x="239" y="76.3">200</text><text class="s2" x="239" y="89.6">91463</text><text class="s3" x="239" y="102.3">0.00%</text>
<text class="s1" x="479" y="76.3">150</text><text class="s2" x="479" y="89.6">93263</text><text class="s3" x="479" y="102.3">0.00%</text>
<text class="s1" x="719" y="76.3">175</text><text class="s2" x="719" y="89.6">95363</text><text class="s3" x="719" y="102.3">0.00%</text>
<text class="s1" x="959" y="76.3">150</text><text class="s2" x="959" y="89.6">96413</text><text class="s3" x="959" y="102.3">0.00%</text>
</g>
</g>

<g id="row21" transform="translate(31.3,3025.7)">
<use href="#st"/>
<rect class="G" x="120" y="-3.5" width="104" height="7"/>
<rect class="og" x="0" width="224" height="60"/>
<g class="Bg"><use href="#s3" x="0"/><use href="#s3" x="30"/></g>
<use href="#s4" class="Og" x="60"/>
<g class="G"><use href="#s0" x="120"/><use href="#c0" x="240"/><use href="#c0" x="270"/><use href="#c0" x="300"/><use href="#c0" x="330"/><use href="#c0" x="360"/></g>
<g class="B"><use href="#c3" x="420"/><use href="#c3" x="600"/><use href="#c3" x="630"/><use href="#c3" x="660"/><use href="#c3" x="690"/></g>
<g class="Y"><use href="#c2" x="480"/><use href="#c2" x="510"/><use href="#c2" x="540"/></g>
<g class="R"><use href="#c1" x="720"/><use href="#c1" x="750"/><use href="#c1" x="780"/><use href="#c1" x="810"/><use href="#c1" x="840"/></g>
<use href="#c4" class="O" x="900"/>
<g class="t">
<text class="tp" x="-0.5" y="-20.5">♩=164</text><text class="tp" x="239.5" y="-20.5">♩=160</text><text class="tp" x="479.5" y="-20.5">♩=161</text><text class="tp" x="719.5" y="-20.5">♩=162</text>
<text class="mn" x="0.5" y="-8.4">81</text><text class="mn" x="240.5" y="-8.4">82</text><text class="mn" x="480.5" y="-8.4">83</text><text class="mn" x="720.5" y="-8.4">84</text>
<text class="s1" x="239" y="76.3">121</text><text class="s2" x="239" y="89.6">97139</text><text class="s3" x="239" y="102.3">30.95%</text>
<text class="s1" x="479" y="76.3">150</text><text class="s2" x="479" y="89.6">98039</text><text class="s3" x="479" y="102.3">30.95%</text>
<text class="s1" x="719" y="76.3">175</text><text class="s2" x="719" y="89.6">99089</text><text class="s3" x="719" y="102.3">30.95%</text>
<text class="s1" x="959" y="76.3">150</text><text class="s2" x="959" y="89.6">99989</text><text class="s3" x="959" y="102.3">30.95%</text>
</g>
</g>

<g id="row22" transform="translate(31.3,3166.7)">
<use href="#st"/>
<rect class="Y" x="150" y="26.5" width="44.7" height="7"/>
<g class="B"><use href="#c3" x="0"/><use href="#c3" x="30"/><use href="#c3" x="60"/><use href="#c3" x="90"/><use href="#c3" x="120"/><use href="#c3" x="420"/><use href="#c3" x="600"/><use href="#c3" x="630"/><use href="#c3" x="660"/><use href="#c3" x="690"/></g>
<g class="Y"><use href="#c2" x="150"/><use href="#c2" x="480"/><use href="#c2" x="510"/><use href="#c2" x="540"/></g>
<g class="O"><use href="#c4" x="210"/><use href="#c4" x="900"/></g>
<g class="G"><use href="#c0" x="240"/><use href="#c0" x="270"/><use href="#c0" x="300"/><use href="#c0" x="330"/><use href="#c0" x="360"/></g>
<g class="R"><use href="#c1" x="720"/><use href="#c1" x="750"/><use href="#c1" x="780"/><use href="#c1" x="810"/><use href="#c1" x="840"/></g>
<g class="t">
<text class="tp" x="-0.5" y="-20.5">♩=162</text><text class="tp" x="239.5" y="-20.5">♩=164</text><text class="tp" x="479.5" y="-20.5">♩=160</text><text class="tp" x="719.5" y="-20.5">♩=163</text>
<text class="mn" x="0.5" y="-8.4">85</text><text class="mn" x="240.5" y="-8.4">86</text><text class="mn" x="480.5" y="-8.4">87</text><text class="mn" x="720.5" y="-8.4">88</text>
<text class="s1" x="239" y="76.3">184</text><text class="s2" x="239" y="89.6">101093</text><text class="s3" x="239" y="102.3">30.95%</text>
<text class="s1" x="479" y="76.3">150</text><text class="s2" x="479" y="89.6">101993</text><text class="s3" x="479" y="102.3">30.95%</text>
<text class="s1" x="719" y="76.3">175</text><text class="s2" x="719" y="89.6">103043</text><text class="s3" x="719" y="102.3">30.95%</text>
<text class="s1" x="959" y="76.3">150</text><text class="s2" x="959" y="89.6">103943</text><text class="s3" x="959" y="102.3">30.95%</text>
</g>
</g>

<g id="row23" transform="translate(31.3,3307.7)">
<use href="#st"/>
<rect class="Y" x="150" y="26.5" width="44.7" height="7"/>
<rect class="B" x="330" y="41.5" width="44.3" height="7"/>
<rect class="Y" x="450" y="26.5" width="44.4" height="7"/>
<rect class="Y" x="540" y="26.5" width="44.7" height="7"/>
<rect class="Y" x="810" y="26.5" width="44.7" height="7"/>
<rect class="R" x="930" y="11.5" width="30" height="7"/>
<rect class="og" x="0" width="210" height="60"/>
<rect class="ob" x="606.7" width="353.3" height="60"/>
<rect class="op" x="600" width="6.7" height="60"/>
<g class="Bg"><use href="#s3" x="0"/><use href="#s3" x="30"/><use href="#s3" x="60"/><use href="#s3" x="90"/><use href="#s3" x="120"/></g>
<use href="#s2" class="Yg" x="150"/>
<use href="#s4" class="Og" x="210"/>
<g class="O"><use href="#c4" x="240"/><use href="#c4" x="300"/></g>
<g class="G"><use href="#c0" x="270"/><use href="#c0" x="390"/><use href="#c0" x="510"/><use href="#c0" x="600"/></g>
<g class="B"><use href="#c3" x="330"/><use href="#c3" x="420"/><use href="#c3" x="720"/><use href="#c3" x="780"/></g>
<g class="Y"><use href="#c2" x="450"/><use href="#c2" x="540"/></g>
<g class="Gb"><use href="#c0" x="630"/><use href="#c0" x="660"/><use href="#c0" x="690"/><use href="#c0" x="750"/><use href="#c0" x="870"/></g>
<g class="Yb"><use href="#c2" x="810"/><use href="#c2" x="900"/></g>
<use href="#c1" class="Rb" x="930"/>
<g class="t">
<text class="tp" x="-0.5" y="-20.5">♩=163</text><text class="tp" x="239.5" y="-20.5">♩=162</text><text class="tp" x="719.5" y="-20.5">♩=162</text>
<text class="mn" x="0.5" y="-8.4">89</text><text class="mn" x="240.5" y="-8.4">90</text><text class="mn" x="480.5" y="-8.4">91</text><text class="mn" x="720.5" y="-8.4">92</text>
<text class="s1" x="239" y="76.3">184</text><text class="s2" x="239" y="89.6">105047</text><text class="s3" x="239" y="102.3">58.50%</text>
<text class="s1" x="479" y="76.3">190</text><text class="s2" x="479" y="89.6">106187</text><text class="s3" x="479" y="102.3">58.50%</text>
<text class="s1" x="719" y="76.3">162</text><text class="s2" x="719" y="89.6">107759</text><text class="s3" x="719" y="102.3">52.65%</text>
<text class="s1" x="959" y="76.3">190</text><text class="s2" x="959" y="89.6">110039</text><text class="s3" x="959" y="102.3">40.15%</text>
</g>
</g>

<g id="row24" transform="translate(31.3,3448.7)">
<use href="#st"/>
<rect class="R" x="0" y="11.5" width="14.4" height="7"/>
<rect class="O" x="60" y="56.5" width="44.5" height="7"/>
<rect class="B" x="330" y="41.5" width="44.3" height="7"/>
<rect class="R" x="450" y="11.5" width="44.4" height="7"/>
<rect class="R" x="540" y="11.5" width="44.7" height="7"/>
<rect class="ob" x="0" width="770.7" height="60"/>
<rect class="op" x="770.7" width="9" height="60"/>
<g class="Rb"><use href="#c1" x="30"/><use href="#c1" x="450"/><use href="#c1" x="540"/><use href="#c1" x="720"/><use href="#c1" x="750"/></g>
<use href="#c4" class="Ob" x="60"/>
<g class="Gb"><use href="#c0" x="120"/><use href="#c0" x="150"/><use href="#c0" x="180"/><use href="#c0" x="210"/><use href="#c0" x="270"/><use href="#c0" x="390"/><use href="#c0" x="510"/><use href="#c0" x="600"/><use href="#c0" x="630"/><use href="#c0" x="660"/><use href="#c0" x="690"/></g>
<g class="Yb"><use href="#c2" x="240"/><use href="#c2" x="300"/></g>
<g class="B"><use href="#c3" x="330"/><use href="#c3" x="420"/><use href="#c3" x="810"/><use href="#c3" x="870"/><use href="#c3" x="930"/></g>
<use href="#c1" class="R" x="780"/>
<g class="t">
<text class="tp" x="239.5" y="-20.5">♩=161</text><text class="tp" x="719.5" y="-20.5">♩=162</text>
<text class="mn" x="0.5" y="-8.4">93</text><text class="mn" x="240.5" y="-8.4">94</text><text class="mn" x="480.5" y="-8.4">95</text><text class="mn" x="720.5" y="-8.4">96</text>
<text class="s1" x="239" y="76.3">162</text><text class="s2" x="239" y="89.6">111983</text><text class="s3" x="239" y="102.3">27.65%</text>
<text class="s1" x="479" y="76.3">190</text><text class="s2" x="479" y="89.6">114263</text><text class="s3" x="479" y="102.3">15.15%</text>
<text class="s1" x="719" y="76.3">162</text><text class="s2" x="719" y="89.6">116207</text><text class="s3" x="719" y="102.3">2.65%</text>
<text class="s1" x="959" y="76.3">150</text><text class="s2" x="959" y="89.6">117557</text><text class="s3" x="959" y="102.3">0.00%</text>
</g>
</g>

<g id="row25" transform="translate(31.3,3589.7)">
<use href="#st"/>
<rect class="O" x="120" y="56.5" width="60" height="7"/>
<rect class="G" x="240" y="-3.5" width="44.7" height="7"/>
<rect class="Y" x="480" y="26.5" width="44.5" height="7"/>
<rect class="G" x="720" y="-3.5" width="44.7" height="7"/>
<rect class="og" x="30" width="150" height="60"/>
<use href="#s3" class="Bg" x="30"/>
<use href="#s2" class="Yg" x="60"/>
<use href="#s4" class="Og" x="120"/>
<g class="G"><use href="#c0" x="240"/><use href="#c0" x="300"/><use href="#c0" x="330"/><use href="#c0" x="360"/><use href="#c0" x="390"/><use href="#c0" x="420"/><use href="#c0" x="450"/><use href="#c0" x="720"/><use href="#c0" x="780"/><use href="#c0" x="810"/><use href="#c0" x="840"/><use href="#c0" x="870"/><use href="#c0" x="900"/><use href="#c0" x="930"/></g>
<g class="Y"><use href="#c2" x="480"/><use href="#c2" x="540"/><use href="#c2" x="570"/><use href="#c2" x="630"/><use href="#c2" x="660"/><use href="#c2" x="690"/></g>
<use href="#c1" class="R" x="600"/>
<g class="t">
<text class="tp" x="239.5" y="-20.5">♩=161</text><text class="tp" x="479.5" y="-20.5">♩=164</text><text class="tp" x="719.5" y="-20.5">♩=161</text>
<text class="mn" x="0.5" y="-8.4">97</text><text class="mn" x="240.5" y="-8.4">98</text><text class="mn" x="480.5" y="-8.4">99</text><text class="mn" x="720.5" y="-8.4">100</text>
<text class="s1" x="239" y="76.3">87</text><text class="s2" x="239" y="89.6">118079</text><text class="s3" x="239" y="102.3">28.39%</text>
<text class="s1" x="479" y="76.3">184</text><text class="s2" x="479" y="89.6">119183</text><text class="s3" x="479" y="102.3">28.39%</text>
<text class="s1" x="719" y="76.3">184</text><text class="s2" x="719" y="89.6">120287</text><text class="s3" x="719" y="102.3">28.39%</text>
<text class="s1" x="959" y="76.3">184</text><text class="s2" x="959" y="89.6">121391</text><text class="s3" x="959" y="102.3">28.39%</text>
</g>
</g>

<g id="row26" transform="translate(31.3,3730.7)">
<use href="#st"/>
<rect class="Y" x="0" y="26.5" width="44.5" height="7"/>
<rect class="O" x="120" y="56.5" width="44.7" height="7"/>
<rect class="Y" x="180" y="26.5" width="44" height="7"/>
<rect class="G" x="240" y="-3.5" width="44.7" height="7"/>
<rect class="Y" x="480" y="26.5" width="44.5" height="7"/>
<rect class="G" x="720" y="-3.5" width="44.7" height="7"/>
<rect class="og" x="720" width="210" height="60"/>
<g class="Y"><use href="#c2" x="0"/><use href="#c2" x="60"/><use href="#c2" x="90"/><use href="#c2" x="180"/><use href="#c2" x="480"/><use href="#c2" x="540"/><use href="#c2" x="570"/><use href="#c2" x="630"/><use href="#c2" x="660"/><use href="#c2" x="690"/></g>
<use href="#c4" class="O" x="120"/>
<use href="#c1" class="R" x="600"/>
<g class="G"><use href="#c0" x="240"/><use href="#c0" x="300"/><use href="#c0" x="330"/><use href="#c0" x="360"/><use href="#c0" x="390"/><use href="#c0" x="420"/><use href="#c0" x="450"/><use href="#s0" x="720"/><use href="#s0" x="780"/><use href="#s0" x="810"/><use href="#s0" x="840"/><use href="#s0" x="870"/><use href="#s0" x="900"/><use href="#s0" x="930"/></g>
<g class="t">
<text class="tp" x="-0.5" y="-20.5">♩=162</text><text class="tp" x="239.5" y="-20.5">♩=163</text><text class="tp" x="479.5" y="-20.5">♩=162</text><text class="tp" x="719.5" y="-20.5">♩=160</text>
<text class="mn" x="0.5" y="-8.4">101</text><text class="mn" x="240.5" y="-8.4">102</text><text class="mn" x="480.5" y="-8.4">103</text><text class="mn" x="720.5" y="-8.4">104</text>
<text class="s1" x="239" y="76.3">152</text><text class="s2" x="239" y="89.6">122303</text><text class="s3" x="239" y="102.3">28.39%</text>
<text class="s1" x="479" y="76.3">184</text><text class="s2" x="479" y="89.6">123407</text><text class="s3" x="479" y="102.3">28.39%</text>
<text class="s1" x="719" y="76.3">184</text><text class="s2" x="719" y="89.6">124511</text><text class="s3" x="719" y="102.3">28.39%</text>
<text class="s1" x="959" y="76.3">184</text><text class="s2" x="959" y="89.6">125615</text><text class="s3" x="959" y="102.3">55.94%</text>
</g>
</g>

<g id="row27" transform="translate(31.3,3871.7)">
<use href="#st"/>
<rect class="Y" x="330" y="26.5" width="44.3" height="7"/>
<rect class="Y" x="570" y="26.5" width="44.7" height="7"/>
<rect class="Y" x="810" y="26.5" width="44.7" height="7"/>
<g class="R"><use href="#c1" x="0"/><use href="#c1" x="420"/><use href="#c1" x="660"/><use href="#c1" x="900"/></g>
<g class="B"><use href="#c3" x="60"/><use href="#c3" x="180"/></g>
<g class="O"><use href="#c4" x="120"/><use href="#c4" x="210"/></g>
<g class="G"><use href="#c0" x="240"/><use href="#c0" x="270"/><use href="#c0" x="300"/><use href="#c0" x="480"/><use href="#c0" x="510"/><use href="#c0" x="540"/><use href="#c0" x="720"/><use href="#c0" x="750"/><use href="#c0" x="780"/></g>
<g class="Y"><use href="#c2" x="330"/><use href="#c2" x="390"/><use href="#c2" x="450"/><use href="#c2" x="570"/><use href="#c2" x="630"/><use href="#c2" x="690"/><use href="#c2" x="810"/><use href="#c2" x="870"/><use href="#c2" x="930"/></g>
<g class="t">
<text class="tp" x="-0.5" y="-20.5">♩=164</text><text class="tp" x="239.5" y="-20.5">♩=160</text><text class="tp" x="479.5" y="-20.5">♩=162</text><text class="tp" x="719.5" y="-20.5">♩=163</text>
<text class="mn" x="0.5" y="-8.4">105</text><text class="mn" x="240.5" y="-8.4">106</text><text class="mn" x="480.5" y="-8.4">107</text><text class="mn" x="720.5" y="-8.4">108</text>
<text class="s1" x="239" y="76.3">125</text><text class="s2" x="239" y="89.6">126365</text><text class="s3" x="239" y="102.3">55.94%</text>
<text class="s1" x="479" y="76.3">184</text><text class="s2" x="479" y="89.6">127469</text><text class="s3" x="479" y="102.3">55.94%</text>
<text class="s1" x="719" y="76.3">184</text><text class="s2" x="719" y="89.6">128573</text><text class="s3" x="719" y="102.3">55.94%</text>
<text class="s1" x="959" y="76.3">184</text><text class="s2" x="959" y="89.6">129677</text><text class="s3" x="959" y="102.3">55.94%</text>
</g>
</g>

<g id="row28" transform="translate(31.3,4012.7)">
<use href="#st"/>
<rect class="O" x="90" y="56.5" width="44.6" height="7"/>
<rect class="Y" x="330" y="26.5" width="44.3" height="7"/>
<rect class="Y" x="570" y="26.5" width="44.7" height="7"/>
<rect class="Y" x="810" y="26.5" width="44.7" height="7"/>
<g class="B"><use href="#c3" x="0"/><use href="#c3" x="30"/><use href="#c3" x="60"/><use href="#c3" x="180"/></g>
<g class="O"><use href="#c4" x="90"/><use href="#c4" x="150"/><use href="#c4" x="210"/></g>
<g class="R"><use href="#c1" x="420"/><use href="#c1" x="660"/><use href="#c1" x="900"/></g>
<g class="G"><use href="#c0" x="240"/><use href="#c0" x="270"/><use href="#c0" x="300"/><use href="#c0" x="480"/><use href="#c0" x="510"/><use href="#c0" x="540"/><use href="#c0" x="720"/><use href="#c0" x="750"/><use href="#c0" x="780"/></g>
<g class="Y"><use href="#c2" x="330"/><use href="#c2" x="390"/><use href="#c2" x="450"/><use href="#c2" x="570"/><use href="#c2" x="630"/><use href="#c2" x="690"/><use href="#c2" x="810"/><use href="#c2" x="870"/><use href="#c2" x="930"/></g>
<g class="t">
<text class="tp" x="-0.5" y="-20.5">♩=162</text><text class="tp" x="239.5" y="-20.5">♩=163</text><text class="tp" x="479.5" y="-20.5">♩=162</text><text class="tp" x="719.5" y="-20.5">♩=161</text>
<text class="mn" x="0.5" y="-8.4">109</text><text class="mn" x="240.5" y="-8.4">110</text><text class="mn" x="480.5" y="-8.4">111</text><text class="mn" x="720.5" y="-8.4">112</text>
<text class="s1" x="239" y="76.3">184</text><text class="s2" x="239" y="89.6">130781</text><text class="s3" x="239" y="102.3">55.94%</text>
<text class="s1" x="479" y="76.3">184</text><text class="s2" x="479" y="89.6">131885</text><text class="s3" x="479" y="102.3">55.94%</text>
<text class="s1" x="719" y="76.3">184</text><text class="s2" x="719" y="89.6">132989</text><text class="s3" x="719" y="102.3">55.94%</text>
<text class="s1" x="959" y="76.3">184</text><text class="s2" x="959" y="89.6">134093</text><text class="s3" x="959" y="102.3">55.94%</text>
</g>
</g>

<g id="row29" transform="translate(31.3,4153.7)">
<use href="#st"/>
<rect class="og" x="0" width="210" height="60"/>
<rect class="ob" x="180" width="780" height="60"/>
<rect class="op" x="179.5" width="1" height="60"/>
<use href="#s1" class="Rg" x="0"/>
<use href="#s3" class="Bg" x="60"/>
<use href="#s4" class="Og" x="120"/>
<use href="#s3" class="Bgb" x="180"/>
<use href="#s4" class="Ogb" x="210"/>
<g class="Gb"><use href="#c0" x="240"/><use href="#c0" x="270"/><use href="#c0" x="300"/><use href="#c0" x="480"/><use href="#c0" x="510"/><use href="#c0" x="540"/><use href="#c0" x="720"/><use href="#c0" x="750"/><use href="#c0" x="780"/></g>
<g class="Yb"><use href="#c2" x="330"/><use href="#c2" x="360"/><use href="#c2" x="390"/><use href="#c2" x="450"/><use href="#c2" x="570"/><use href="#c2" x="600"/><use href="#c2" x="630"/><use href="#c2" x="690"/><use href="#c2" x="810"/><use href="#c2" x="840"/><use href="#c2" x="870"/><use href="#c2" x="930"/></g>
<g class="Rb"><use href="#c1" x="420"/><use href="#c1" x="660"/><use href="#c1" x="900"/></g>
<g class="t">
<text class="tp" x="-0.5" y="-20.5">♩=163</text><text class="tp" x="239.5" y="-20.5">♩=161</text><text class="tp" x="479.5" y="-20.5">♩=164</text><text class="tp" x="719.5" y="-20.5">♩=160</text>
<text class="mn" x="0.5" y="-8.4">113</text><text class="mn" x="240.5" y="-8.4">114</text><text class="mn" x="480.5" y="-8.4">115</text><text class="mn" x="720.5" y="-8.4">116</text>
<text class="s1" x="239" y="76.3">125</text><text class="s2" x="239" y="89.6">135143</text><text class="s3" x="239" y="102.3">77.94%</text>
<text class="s1" x="479" y="76.3">200</text><text class="s2" x="479" y="89.6">137543</text><text class="s3" x="479" y="102.3">65.44%</text>
<text class="s1" x="719" y="76.3">200</text><text class="s2" x="719" y="89.6">139943</text><text class="s3" x="719" y="102.3">52.94%</text>
<text class="s1" x="959" y="76.3">200</text><text class="s2" x="959" y="89.6">142343</text><text class="s3" x="959" y="102.3">40.44%</text>
</g>
</g>

<g id="row30" transform="translate(31.3,4294.7)">
<use href="#st"/>
<rect class="ob" x="0" width="775.7" height="60"/>
<rect class="op" x="775.7" width="4" height="60"/>
<g class="B"><use href="#c3" x="0"/><use href="#c3" x="30"/><use href="#c3" x="60"/><use href="#c3" x="180"/></g>
<g class="Ob"><use href="#c4" x="90"/><use href="#c4" x="120"/><use href="#c4" x="150"/><use href="#c4" x="210"/></g>
<g class="Gb"><use href="#c0" x="240"/><use href="#c0" x="270"/><use href="#c0" x="300"/><use href="#c0" x="480"/><use href="#c0" x="510"/><use href="#c0" x="540"/><use href="#c0" x="720"/><use href="#c0" x="750"/></g>
<use href="#c0" class="G" x="780"/>
<g class="Yb"><use href="#c2" x="330"/><use href="#c2" x="360"/><use href="#c2" x="390"/><use href="#c2" x="450"/><use href="#c2" x="570"/><use href="#c2" x="600"/><use href="#c2" x="630"/><use href="#c2" x="690"/></g>
<g class="Rb"><use href="#c1" x="420"/><use href="#c1" x="660"/></g>
<g class="Y"><use href="#c2" x="810"/><use href="#c2" x="840"/><use href="#c2" x="870"/><use href="#c2" x="930"/></g>
<use href="#c1" class="R" x="900"/>
<g class="t">
<text class="tp" x="-0.5" y="-20.5">♩=161</text><text class="tp" x="239.5" y="-20.5">♩=164</text><text class="tp" x="479.5" y="-20.5">♩=162</text><text class="tp" x="719.5" y="-20.5">♩=160</text>
<text class="mn" x="0.5" y="-8.4">117</text><text class="mn" x="240.5" y="-8.4">118</text><text class="mn" x="480.5" y="-8.4">119</text><text class="mn" x="720.5" y="-8.4">120</text>
<text class="s1" x="239" y="76.3">200</text><text class="s2" x="239" y="89.6">144743</text><text class="s3" x="239" y="102.3">27.94%</text>
<text class="s1" x="479" y="76.3">200</text><text class="s2" x="479" y="89.6">147143</text><text class="s3" x="479" y="102.3">15.44%</text>
<text class="s1" x="719" y="76.3">200</text><text class="s2" x="719" y="89.6">149543</text><text class="s3" x="719" y="102.3">2.94%</text>
<text class="s1" x="959" y="76.3">200</text><text class="s2" x="959" y="89.6">151193</text><text class="s3" x="959" y="102.3">0.00%</text>
</g>
</g>

<g id="row31" transform="translate(31.3,4435.7)">
<use href="#st"/>
<rect class="O" x="240" y="56.5" width="720" height="7"/>
<use href="#c1" class="R" x="0"/>
<g class="B"><use href="#c3" x="60"/><use href="#c3" x="180"/></g>
<g class="O"><use href="#c4" x="120"/><use href="#c4" x="210"/><use href="#c4" x="240"/></g>
<g class="t">
<text class="tp" x="-0.5" y="-20.5">♩=161</text>
<text class="mn" x="0.5" y="-8.4">121</text><text class="mn" x="240.5" y="-8.4">122</text><text class="mn" x="480.5" y="-8.4">123</text><text class="mn" x="720.5" y="-8.4">124</text>
<text class="s1" x="239" y="76.3">125</text><text class="s2" x="239" y="89.6">151943</text><text class="s3" x="239" y="102.3">0.00%</text>
<text class="s1" x="479" y="76.3">73</text><text class="s2" x="479" y="89.6">152381</text><text class="s3" x="479" y="102.3">0.00%</text>
<text class="s1" x="719" y="76.3">48</text><text class="s2" x="719" y="89.6">152669</text><text class="s3" x="719" y="102.3">0.00%</text>
<text class="s1" x="959" y="76.3">48</text><text class="s2" x="959" y="89.6">152957</text><text class="s3" x="959" y="102.3">0.00%</text>
</g>
</g>

<g id="row32" transform="translate(31.3,4576.7)">
<use href="#st2"/>
<rect class="O" x="0" y="56.5" width="480" height="7"/>
<g class="t">
<text class="mn" x="0.5" y="-8.4">125</text><text class="mn" x="240.5" y="-8.4">126</text>
<text class="s1" x="239" y="76.3">48</text><text class="s2" x="239" y="89.6">153245</text><text class="s3" x="239" y="102.3">0.00%</text>
<text class="s1" x="479" y="76.3">48</text><text class="s2" x="479" y="89.6">153533</text><text class="s3" x="479" y="102.3">0.00%</text>
</g>
</g>
</g>
</svg>
